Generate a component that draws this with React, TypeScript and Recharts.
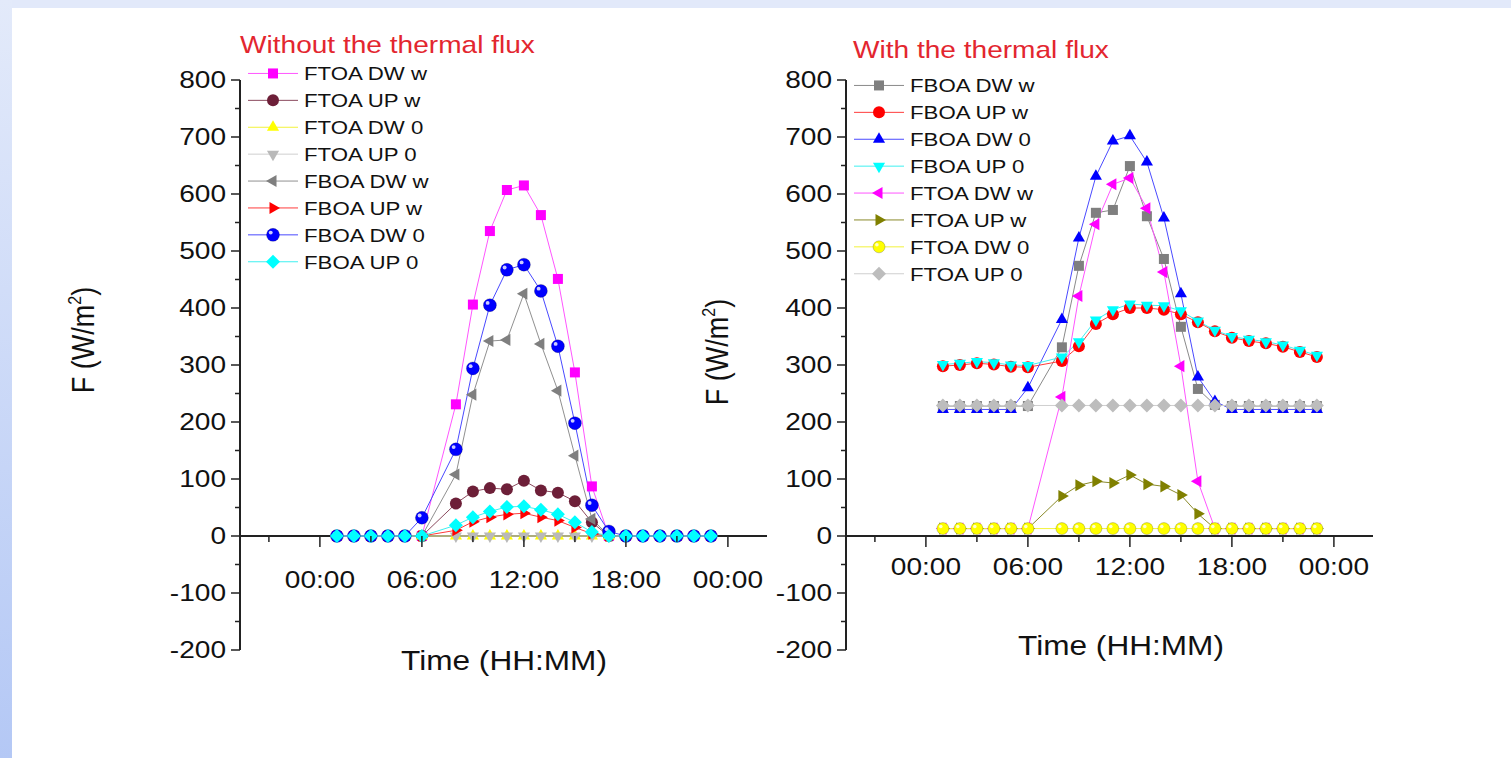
import { LineChart, Line, XAxis, YAxis, ReferenceLine, Legend } from 'recharts'

const FONT = '"Liberation Sans", Arial, Helvetica, sans-serif'
// the source picture is stretched sideways a little, so text is too
const STRETCH = 1.17

const HOURS = [1, 2, 3, 4, 5, 6, 8, 9, 10, 11, 12, 13, 14, 15, 16, 17, 18, 19, 20, 21, 22, 23]
const MAJOR_TICKS = [0, 6, 12, 18, 24]
const MAJOR_LABELS = ['00:00', '06:00', '12:00', '18:00', '00:00']
const X_TICKS = [-3, 0, 3, 6, 9, 12, 15, 18, 21, 24]
const Y_TICKS = [-200, -150, -100, -50, 0, 50, 100, 150, 200, 250, 300, 350, 400, 450, 500, 550, 600, 650, 700, 750, 800]
const Y_MIN = -200
const Y_MAX = 800

// without the thermal flux
const L_FTOA_DW_W = [0, 0, 0, 0, 0, 0, 231, 406, 535, 607, 615, 563, 451, 287, 87, 0, 0, 0, 0, 0, 0, 0]
const L_FTOA_UP_W = [0, 0, 0, 0, 0, 0, 57, 78, 84, 82, 97, 80, 76, 61, 24, 0, 0, 0, 0, 0, 0, 0]
const L_FTOA_DW_0 = [0, 0, 0, 0, 0, 0, 0, 0, 0, 0, 0, 0, 0, 0, 0, 0, 0, 0, 0, 0, 0, 0]
const L_FTOA_UP_0 = [0, 0, 0, 0, 0, 0, 0, 0, 0, 0, 0, 0, 0, 0, 0, 0, 0, 0, 0, 0, 0, 0]
const L_FBOA_DW_W = [0, 0, 0, 0, 0, 0, 108, 248, 342, 344, 425, 337, 255, 141, 30, 0, 0, 0, 0, 0, 0, 0]
const L_FBOA_UP_W = [0, 0, 0, 0, 0, 0, 10, 25, 33, 38, 40, 33, 27, 15, 4, 0, 0, 0, 0, 0, 0, 0]
const L_FBOA_DW_0 = [0, 0, 0, 0, 0, 32, 152, 294, 405, 467, 476, 430, 333, 198, 54, 8, 0, 0, 0, 0, 0, 0]
const L_FBOA_UP_0 = [0, 0, 0, 0, 0, 0, 19, 33, 43, 51, 52, 46, 38, 24, 7, 0, 0, 0, 0, 0, 0, 0]

// with the thermal flux
const R_FBOA_DW_W = [228, 228, 228, 228, 228, 228, 331, 474, 567, 572, 649, 561, 486, 367, 258, 230, 228, 228, 228, 228, 228, 228]
const R_FBOA_UP_W = [298, 300, 303, 301, 297, 296, 307, 333, 372, 389, 400, 400, 397, 389, 375, 359, 348, 342, 338, 332, 323, 314]
const R_FBOA_DW_0 = [222, 222, 222, 222, 222, 260, 380, 523, 631, 693, 702, 656, 558, 425, 279, 236, 222, 222, 222, 222, 222, 222]
const R_FBOA_UP_0 = [301, 303, 306, 304, 300, 299, 314, 341, 379, 397, 407, 405, 404, 395, 377, 361, 350, 345, 341, 335, 326, 317]
const R_FTOA_DW_W = [13, 13, 13, 13, 13, 13, 244, 421, 547, 617, 628, 575, 463, 298, 96, 13, 13, 13, 13, 13, 13, 13]
const R_FTOA_UP_W = [13, 13, 13, 13, 13, 13, 70, 89, 96, 93, 107, 91, 87, 72, 39, 13, 13, 13, 13, 13, 13, 13]
const R_FTOA_DW_0 = [13, 13, 13, 13, 13, 13, 13, 13, 13, 13, 13, 13, 13, 13, 13, 13, 13, 13, 13, 13, 13, 13]
const R_FTOA_UP_0 = [229, 229, 229, 229, 229, 229, 229, 229, 229, 229, 229, 229, 229, 229, 229, 229, 229, 229, 229, 229, 229, 229]

type Shape = 'square' | 'circle' | 'sphere' | 'up' | 'down' | 'left' | 'right' | 'diamond'

interface Series {
  key: string
  name: string
  values: number[]
  fill: string
  stroke: string
  shape: Shape
  size: number
}

const LEFT_SERIES: Series[] = [
  { key: 's1', name: 'FTOA DW w', values: L_FTOA_DW_W, fill: '#ff00ff', stroke: '#ff55ff', shape: 'square', size: 10 },
  { key: 's2', name: 'FTOA UP w', values: L_FTOA_UP_W, fill: '#6d1f38', stroke: '#8b4a5e', shape: 'circle', size: 12 },
  { key: 's3', name: 'FTOA DW 0', values: L_FTOA_DW_0, fill: '#ffff00', stroke: '#f2f23a', shape: 'up', size: 14 },
  { key: 's4', name: 'FTOA UP 0', values: L_FTOA_UP_0, fill: '#b9b9b9', stroke: '#cfcfcf', shape: 'down', size: 14 },
  { key: 's5', name: 'FBOA DW w', values: L_FBOA_DW_W, fill: '#7f7f7f', stroke: '#909090', shape: 'left', size: 14 },
  { key: 's6', name: 'FBOA UP w', values: L_FBOA_UP_W, fill: '#ff0000', stroke: '#ff3b3b', shape: 'right', size: 14 },
  { key: 's7', name: 'FBOA DW 0', values: L_FBOA_DW_0, fill: '#0000ff', stroke: '#4a4aff', shape: 'sphere', size: 13 },
  { key: 's8', name: 'FBOA UP 0', values: L_FBOA_UP_0, fill: '#00ffff', stroke: '#3ff0f0', shape: 'diamond', size: 14 },
]

const RIGHT_SERIES: Series[] = [
  { key: 's1', name: 'FBOA DW w', values: R_FBOA_DW_W, fill: '#7f7f7f', stroke: '#8a8a8a', shape: 'square', size: 10 },
  { key: 's2', name: 'FBOA UP w', values: R_FBOA_UP_W, fill: '#ff0000', stroke: '#ff3b3b', shape: 'circle', size: 12 },
  { key: 's3', name: 'FBOA DW 0', values: R_FBOA_DW_0, fill: '#0000ff', stroke: '#4a4aff', shape: 'up', size: 14 },
  { key: 's4', name: 'FBOA UP 0', values: R_FBOA_UP_0, fill: '#00ffff', stroke: '#3ff0f0', shape: 'down', size: 14 },
  { key: 's5', name: 'FTOA DW w', values: R_FTOA_DW_W, fill: '#ff00ff', stroke: '#ff55ff', shape: 'left', size: 14 },
  { key: 's6', name: 'FTOA UP w', values: R_FTOA_UP_W, fill: '#808000', stroke: '#8a8a2a', shape: 'right', size: 14 },
  { key: 's7', name: 'FTOA DW 0', values: R_FTOA_DW_0, fill: '#ffff00', stroke: '#f2f23a', shape: 'sphere', size: 12 },
  { key: 's8', name: 'FTOA UP 0', values: R_FTOA_UP_0, fill: '#bdbdbd', stroke: '#cfcfcf', shape: 'diamond', size: 14 },
]

// chart frame (same for both panels)
const CHART_W = 800
const CHART_H = 720
const PLOT_TOP = 80
const PLOT_H = 570
const X_AXIS_H = 30
const Y_AXIS_W = 60
const MARGIN = { top: PLOT_TOP, right: 33, bottom: CHART_H - PLOT_TOP - PLOT_H - X_AXIS_H, left: 180 }
const ZERO_FROM_BOTTOM = (PLOT_H * (0 - Y_MIN)) / (Y_MAX - Y_MIN)

function Marker({ shape, cx, cy, fill, size }: { shape: Shape; cx: number; cy: number; fill: string; size: number }) {
  const r = size / 2
  const h = r * 0.866
  switch (shape) {
    case 'square':
      return <rect x={cx - r} y={cy - r} width={size} height={size} fill={fill} />
    case 'circle':
      return <circle cx={cx} cy={cy} r={r} fill={fill} />
    case 'sphere':
      return (
        <g>
          <circle cx={cx} cy={cy} r={r} fill={fill} stroke='rgba(0,0,0,0.25)' strokeWidth={0.8} />
          <circle cx={cx - r * 0.35} cy={cy - r * 0.35} r={r * 0.3} fill='#ffffff' opacity={0.8} />
        </g>
      )
    case 'diamond':
      return <polygon points={`${cx},${cy - r} ${cx + r},${cy} ${cx},${cy + r} ${cx - r},${cy}`} fill={fill} />
    case 'up':
      return <polygon points={`${cx},${cy - r} ${cx + h},${cy + r / 2} ${cx - h},${cy + r / 2}`} fill={fill} />
    case 'down':
      return <polygon points={`${cx},${cy + r} ${cx + h},${cy - r / 2} ${cx - h},${cy - r / 2}`} fill={fill} />
    case 'left':
      return <polygon points={`${cx - r},${cy} ${cx + r / 2},${cy - h} ${cx + r / 2},${cy + h}`} fill={fill} />
    case 'right':
      return <polygon points={`${cx + r},${cy} ${cx - r / 2},${cy - h} ${cx - r / 2},${cy + h}`} fill={fill} />
  }
  return null
}

const LEGEND_ROW = 26.9

function LegendBox({ series }: { series: Series[] }) {
  return (
    <svg width={300} height={series.length * LEGEND_ROW} style={{ display: 'block', overflow: 'visible' }}>
      {series.map((s, i) => (
        <g key={s.name} transform={`translate(0, ${i * LEGEND_ROW + LEGEND_ROW / 2})`}>
          <line x1={0} x2={50} y1={0} y2={0} stroke={s.stroke} strokeWidth={1} />
          <Marker shape={s.shape} cx={25} cy={0} fill={s.fill} size={s.size} />
          <text
            transform={`translate(56, 0) scale(${STRETCH}, 1)`}
            dominantBaseline='central'
            fontSize={19}
            fontFamily={FONT}
            fill='#111'
          >
            {s.name}
          </text>
        </g>
      ))}
    </svg>
  )
}

function makeXTick(labelGap: number) {
  return function XTick({ x, y, payload }: any) {
    const zy = Number(y) - ZERO_FROM_BOTTOM
    const idx = MAJOR_TICKS.indexOf(payload.value)
    const isMajor = idx >= 0
    return (
      <g>
        <line x1={x} x2={x} y1={zy} y2={zy + (isMajor ? 11 : 6)} stroke='#222' strokeWidth={1.5} />
        {isMajor && (
          <text
            transform={`translate(${x}, ${zy + labelGap}) scale(${STRETCH}, 1)`}
            textAnchor='middle'
            dominantBaseline='central'
            fontSize={24}
            fontFamily={FONT}
            fill='#111'
          >
            {MAJOR_LABELS[idx]}
          </text>
        )}
      </g>
    )
  }
}

function YTick({ x, y, payload }: any) {
  const v = payload.value as number
  const isMajor = v % 100 === 0
  return (
    <g>
      <line x1={x - (isMajor ? 9 : 5)} x2={x} y1={y} y2={y} stroke='#222' strokeWidth={1.5} />
      {isMajor && (
        <text
          transform={`translate(${x - 14}, ${y}) scale(${STRETCH}, 1)`}
          textAnchor='end'
          dominantBaseline='central'
          fontSize={24}
          fontFamily={FONT}
          fill='#111'
        >
          {v}
        </text>
      )}
    </g>
  )
}

function Panel({ series, legendTop, labelGap }: { series: Series[]; legendTop: number; labelGap: number }) {
  const rows = HOURS.map((hour, i) => {
    const row: Record<string, number> = { hour }
    series.forEach((s) => {
      row[s.key] = s.values[i]
    })
    return row
  })
  return (
    <LineChart width={CHART_W} height={CHART_H} data={rows} margin={MARGIN}>
      <XAxis
        type='number'
        dataKey='hour'
        domain={[-4.7, 26.3]}
        ticks={X_TICKS}
        interval={0}
        height={X_AXIS_H}
        axisLine={false}
        tickLine={false}
        tickSize={0}
        tickMargin={0}
        tick={makeXTick(labelGap)}
        allowDataOverflow
      />
      <YAxis
        type='number'
        domain={[Y_MIN, Y_MAX]}
        ticks={Y_TICKS}
        interval={0}
        width={Y_AXIS_W}
        axisLine={{ stroke: '#222', strokeWidth: 2 }}
        tickLine={false}
        tickSize={0}
        tickMargin={0}
        tick={YTick}
        allowDataOverflow
      />
      <ReferenceLine y={0} stroke='#222' strokeWidth={2} />
      <Legend
        layout='vertical'
        align='center'
        verticalAlign='middle'
        wrapperStyle={{ left: 248, top: legendTop - LEGEND_ROW / 2, width: 300 }}
        content={() => <LegendBox series={series} />}
      />
      {series.map((s) => (
        <Line
          key={s.key}
          dataKey={s.key}
          name={s.name}
          type='linear'
          stroke={s.stroke}
          strokeWidth={1}
          isAnimationActive={false}
          activeDot={false}
          dot={(p: any) => (
            <Marker key={`${s.key}-${p.index}`} shape={s.shape} cx={p.cx} cy={p.cy} fill={s.fill} size={s.size} />
          )}
        />
      ))}
    </LineChart>
  )
}

const RIGHT_OFFSET = 606

export default function App() {
  return (
    <div style={{ position: 'relative', width: 1511, height: 758, background: '#ffffff', overflow: 'hidden' }}>
      <style>{'body{margin:0}'}</style>
      <div style={{ position: 'absolute', left: 0, top: 0, width: 1511, height: 8, background: '#e2e9fa' }} />
      <div
        style={{
          position: 'absolute',
          left: 0,
          top: 0,
          width: 12,
          height: 758,
          background: 'linear-gradient(to bottom, #e3eafa, #b4c8f5)',
        }}
      />
      <div style={{ position: 'absolute', left: 0, top: 0 }}>
        <Panel series={LEFT_SERIES} legendTop={73} labelGap={44} />
      </div>
      <div style={{ position: 'absolute', left: RIGHT_OFFSET, top: 0 }}>
        <Panel series={RIGHT_SERIES} legendTop={85} labelGap={31} />
      </div>
      <svg width={1511} height={758} style={{ position: 'absolute', left: 0, top: 0, pointerEvents: 'none' }}>
        <g fontFamily={FONT}>
          <text transform={`translate(240, 45) scale(${STRETCH}, 1)`} dominantBaseline='central' fontSize={24} fill='#e3262f'>
            Without the thermal flux
          </text>
          <text transform={`translate(853, 50) scale(${STRETCH}, 1)`} dominantBaseline='central' fontSize={24} fill='#e3262f'>
            With the thermal flux
          </text>
          <text transform={`translate(504, 660) scale(${STRETCH}, 1)`} textAnchor='middle' dominantBaseline='central' fontSize={27} fill='#111'>
            Time (HH:MM)
          </text>
          <text transform={`translate(1121, 645) scale(${STRETCH}, 1)`} textAnchor='middle' dominantBaseline='central' fontSize={27} fill='#111'>
            Time (HH:MM)
          </text>
          <text transform={`translate(94, 340) rotate(-90) scale(1, ${STRETCH})`} textAnchor='middle' fontSize={27} fill='#111'>
            F (W/m<tspan dy={-11} fontSize={16}>2</tspan><tspan dy={11}>)</tspan>
          </text>
          <text transform={`translate(728, 352) rotate(-90) scale(1, ${STRETCH})`} textAnchor='middle' fontSize={27} fill='#111'>
            F (W/m<tspan dy={-11} fontSize={16}>2</tspan><tspan dy={11}>)</tspan>
          </text>
        </g>
      </svg>
    </div>
  )
}
